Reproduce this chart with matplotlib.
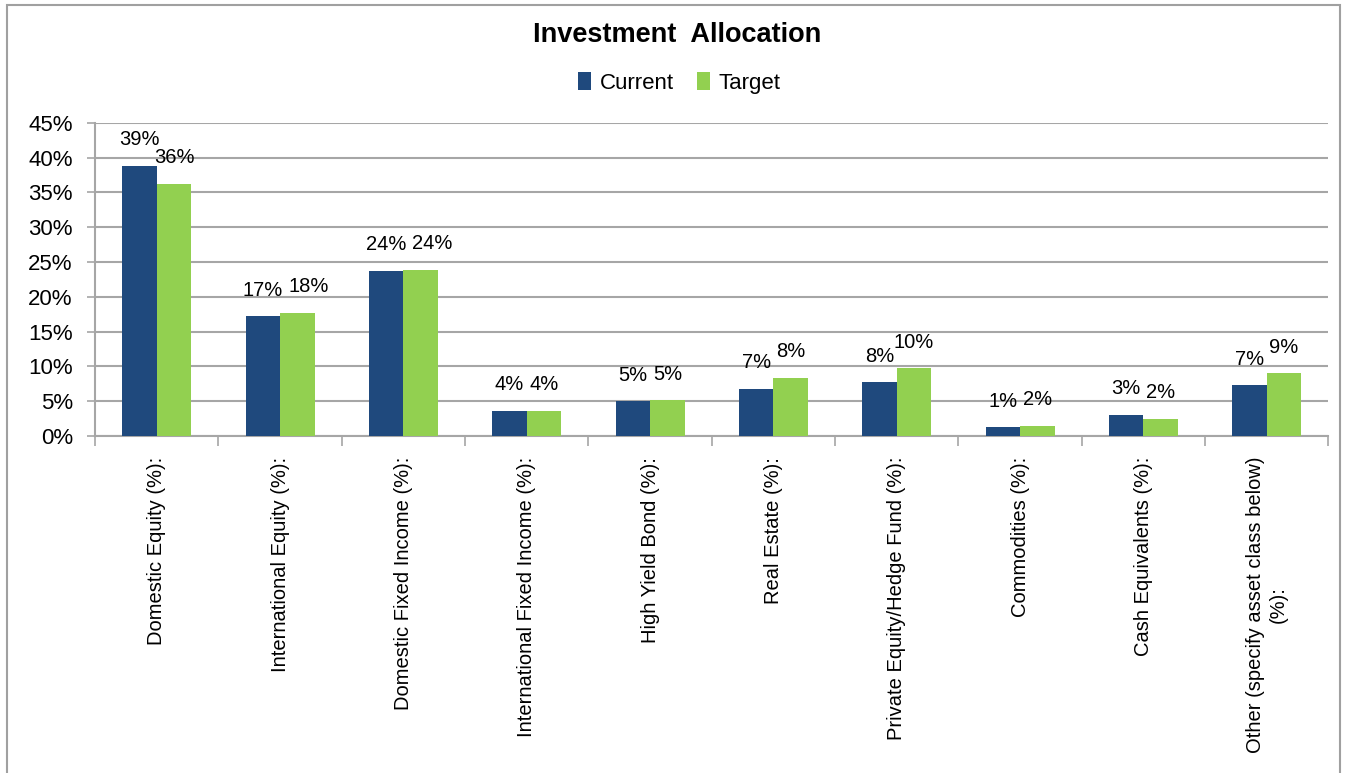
import numpy as np
import matplotlib.pyplot as plt
from matplotlib.patches import Rectangle
from matplotlib.ticker import FixedLocator, FuncFormatter

plt.rcParams['font.family'] = ['Liberation Sans', 'DejaVu Sans']

categories = [
    "Domestic Equity (%):",
    "International Equity (%):",
    "Domestic Fixed Income (%):",
    "International Fixed Income (%):",
    "High Yield Bond (%):",
    "Real Estate (%):",
    "Private Equity/Hedge Fund (%):",
    "Commodities (%):",
    "Cash Equivalents (%):",
    "Other (specify asset class below)\n(%):",
]
current = [38.8, 17.2, 23.7, 3.6, 5.0, 6.8, 7.7, 1.25, 3.05, 7.3]
target = [36.2, 17.7, 23.9, 3.6, 5.1, 8.4, 9.7, 1.45, 2.5, 9.0]
current_labels = ["39%", "17%", "24%", "4%", "5%", "7%", "8%", "1%", "3%", "7%"]
target_labels = ["36%", "18%", "24%", "4%", "5%", "8%", "10%", "2%", "2%", "9%"]

navy = "#1F497D"
green = "#92D050"
grid_grey = "#A6A6A6"

fig = plt.figure(figsize=(13.48, 7.73), dpi=100)
ax = fig.add_axes([0.0705, 0.436, 0.915, 0.405])

x = np.arange(len(categories))
w = 0.28
b1 = ax.bar(x - w / 2, current, w, color=navy, label="Current", zorder=3)
b2 = ax.bar(x + w / 2, target, w, color=green, label="Target", zorder=3)

# data labels above the bars; when both bars are about the same height the
# wide labels would touch, so push the target one a little to the right
for i in range(len(categories)):
    close = abs(current[i] - target[i]) < 1.5
    for rect, lab, dx in [(b1[i], current_labels[i], 0),
                          (b2[i], target_labels[i], 8 if close and len(target_labels[i]) > 2 else 0)]:
        ax.annotate(lab, (rect.get_x() + rect.get_width() / 2, rect.get_height()),
                    xytext=(dx, 12), textcoords="offset points",
                    ha="center", va="bottom", fontsize=14.5)

ax.set_xlim(-0.5, len(categories) - 0.5)
ax.set_ylim(0, 45)
ax.set_yticks(np.arange(0, 46, 5))
ax.yaxis.set_major_formatter(FuncFormatter(lambda v, p: f"{v:.0f}%"))
ax.yaxis.grid(True, color=grid_grey, linewidth=1.5, zorder=0)
ax.tick_params(axis="y", labelsize=16, length=6, width=1.2, color=grid_grey, pad=10)

ax.set_xticks(x)
ax.set_xticklabels(categories, rotation=90, fontsize=14.5, va="top", ha="center",
                   multialignment="center")
ax.xaxis.set_minor_locator(FixedLocator(np.arange(-0.5, len(categories), 1.0)))
ax.tick_params(axis="x", which="major", length=0, pad=15)
ax.tick_params(axis="x", which="minor", length=7, width=1.2, color=grid_grey)

for s in ["top", "right"]:
    ax.spines[s].set_visible(False)
ax.spines["left"].set_color(grid_grey)
ax.spines["left"].set_linewidth(1.5)
ax.spines["bottom"].set_color(grid_grey)
ax.spines["bottom"].set_linewidth(1.5)

fig.text(0.502, 0.955, "Investment  Allocation", ha="center", va="center",
         fontsize=19.5, fontweight="bold")
fig.legend(handles=[b1, b2], labels=["Current", "Target"], loc="center",
           bbox_to_anchor=(0.504, 0.893), ncol=2, frameon=False, fontsize=16,
           handlelength=0.6, handleheight=0.9, handletextpad=0.4, columnspacing=1.0)

fig.patches.append(Rectangle((7 / 1348, -0.02), 1333 / 1348, 1.02 - 5 / 773,
                             transform=fig.transFigure, fill=False,
                             edgecolor="#A0A0A0", linewidth=1.5))

fig.savefig("out.png", dpi=100)
